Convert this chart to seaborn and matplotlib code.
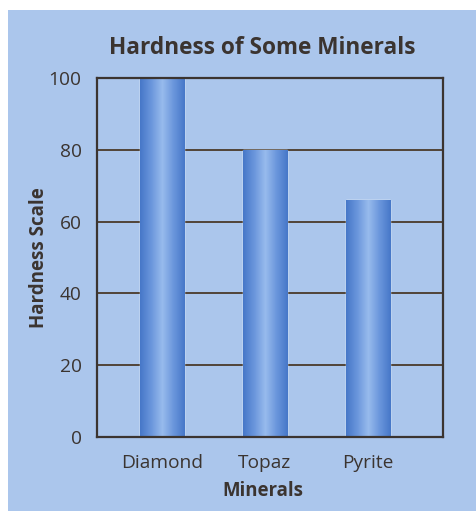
import numpy as np
import pandas as pd
import matplotlib
matplotlib.use("Agg")
import matplotlib.pyplot as plt
from matplotlib.patches import Rectangle
from matplotlib.colors import LinearSegmentedColormap
import seaborn as sns

# data
minerals = ["Diamond", "Topaz", "Pyrite"]
hardness = [100, 80, 66]
y_ticks = [0, 20, 40, 60, 80, 100]

df = pd.DataFrame({"Minerals": minerals, "Hardness Scale": hardness})

sns.set_theme(style="white")
plt.rcParams["font.family"] = ["Open Sans", "DejaVu Sans"]

bg = "#abc6ec"
ink = "#3b3430"
grid_col = "#4a3a2a"

fig = plt.figure(figsize=(4.76, 5.11), dpi=100, facecolor="white")
fig.patches.append(Rectangle((8 / 476, 0), 1, 1 - 10 / 511, transform=fig.transFigure,
                             facecolor=bg, edgecolor="none", zorder=-10))

ax = fig.add_axes([97 / 476, 1 - 437 / 511, (443 - 97) / 476, (437 - 78) / 511])
ax.set_facecolor(bg)

sns.barplot(data=df, x="Minerals", y="Hardness Scale", color="#5f8fd8",
            width=0.43, ax=ax, zorder=3, saturation=1)

# cylinder-like shading on each bar
shade = LinearSegmentedColormap.from_list(
    "cyl", ["#4677c8", "#6a96dc", "#98bbed", "#6a96dc", "#4677c8"])
grad = np.linspace(0, 1, 256).reshape(1, -1)
for p in ax.patches:
    x0, y0 = p.get_x(), p.get_y()
    w, h = p.get_width(), p.get_height()
    im = ax.imshow(grad, cmap=shade, aspect="auto", zorder=4,
                   extent=[x0, x0 + w, y0, y0 + h])
    im.set_clip_path(p)

ax.set_xlim(-0.63, 2.73)
ax.set_ylim(0, 100)
ax.set_yticks(y_ticks)
for v in y_ticks[1:-1]:
    ax.axhline(v, color=grid_col, lw=1.3, zorder=1)

for s in ax.spines.values():
    s.set_visible(True)
    s.set_color(ink)
    s.set_linewidth(1.6)
    s.set_zorder(5)

ax.tick_params(axis="both", length=0, labelsize=13.8, colors=ink)
ax.tick_params(axis="y", pad=11)
ax.tick_params(axis="x", pad=12)
ax.set_xlabel("Minerals", fontsize=13.4, fontweight="bold", color=ink, labelpad=7)
ax.xaxis.label.set_x(0.48)
ax.set_ylabel("Hardness Scale", fontsize=13.5, fontweight="bold", color=ink, labelpad=0)
ax.set_title("Hardness of Some Minerals", fontsize=16.3, fontweight="bold",
             color=ink, pad=17, x=0.477)

fig.savefig("out.png", dpi=100, facecolor=fig.get_facecolor())
